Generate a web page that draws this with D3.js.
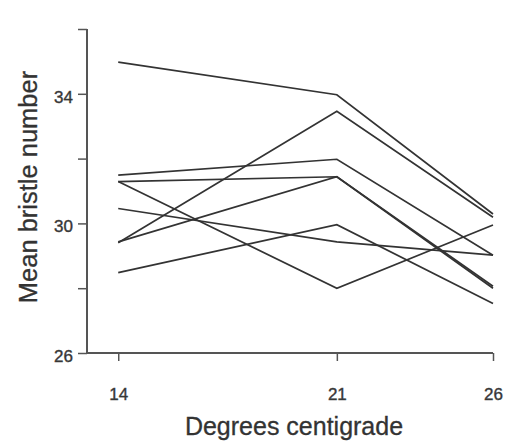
<!DOCTYPE html>
<html>
<head>
<meta charset="utf-8">
<script src="https://cdn.jsdelivr.net/npm/d3@7"></script>
<style>
  html, body { margin: 0; padding: 0; background: #fff; }
  svg { display: block; }
  text { font-family: "Liberation Sans", Arial, sans-serif; fill: #333; }
</style>
</head>
<body>
<svg id="chart" width="505" height="443"></svg>
<script>
// Temperatures (x categories)
const temperatures = [14, 21, 26];
// Mean bristle number per line (one series per line)
const lineA = [34.98, 33.97, 30.29];
const lineB = [29.40, 33.46, 30.19];
const lineC = [31.49, 31.98, 29.02];
const lineD = [31.29, 31.44, 28.06];
const lineE = [31.29, 28.00, 29.95];
const lineF = [29.43, 31.44, 28.00];
const lineG = [28.48, 29.96, 27.53];
const lineH = [30.46, 29.43, 29.02];
const seriesList = [lineA, lineB, lineC, lineD, lineE, lineF, lineG, lineH];

const xTicks = [14, 21, 26];
const yMajorTicks = [26, 30, 34];
const yMinorTicks = [28, 32, 36];

const xTitle = "Degrees centigrade";
const yTitle = "Mean bristle number";

const svg = d3.select("#chart");

const x = d3.scaleLinear().domain([13, 26]).range([87, 493]);
const y = d3.scaleLinear().domain([26, 36]).range([353, 29]);

// Y axis
const yAxisG = svg.append("g").attr("transform", "translate(87,0)");
yAxisG.call(d3.axisLeft(y).tickValues(yMajorTicks.concat(yMinorTicks).sort((a,b)=>a-b))
  .tickSize(9).tickPadding(5)
  .tickFormat(d => yMajorTicks.includes(d) ? d : ""));
yAxisG.select(".domain").attr("stroke", "#555").attr("stroke-width", 2).attr("d", `M0,${y(36)}V${y(26)}`);
yAxisG.selectAll(".tick line").attr("stroke", "#555").attr("stroke-width", 1.5);
yAxisG.selectAll(".tick text")
  .attr("font-size", 17).attr("fill", "#444")
  .attr("stroke", "#444").attr("stroke-width", 0.4)
  .attr("font-family", "'Liberation Sans', Arial, sans-serif")
  .attr("dy", "0.5em");

// X axis
const xAxisG = svg.append("g").attr("transform", "translate(0,353)");
xAxisG.call(d3.axisBottom(x).tickValues(xTicks).tickSize(8).tickPadding(27));
xAxisG.select(".domain").attr("stroke", "#555").attr("stroke-width", 2).attr("d", `M${x(13)},0H${x(26)}`);
xAxisG.selectAll(".tick line").attr("stroke", "#555").attr("stroke-width", 1.5);
xAxisG.selectAll(".tick text")
  .attr("font-size", 17).attr("fill", "#444")
  .attr("stroke", "#444").attr("stroke-width", 0.4)
  .attr("font-family", "'Liberation Sans', Arial, sans-serif");

// Lines
const line = d3.line()
  .x((d, i) => x(temperatures[i]))
  .y(d => y(d));

svg.append("g").selectAll("path")
  .data(seriesList)
  .join("path")
  .attr("d", line)
  .attr("fill", "none")
  .attr("stroke", "#333")
  .attr("stroke-width", 1.7)
  .attr("stroke-linejoin", "miter");

// Titles
svg.append("text")
  .attr("x", 294).attr("y", 435)
  .attr("text-anchor", "middle")
  .attr("font-size", 25)
  .attr("stroke", "#333").attr("stroke-width", 0.3)
  .text(xTitle);

svg.append("text")
  .attr("transform", "translate(37,187) rotate(-90)")
  .attr("text-anchor", "middle")
  .attr("font-size", 25.5)
  .attr("stroke", "#333").attr("stroke-width", 0.3)
  .text(yTitle);
</script>
</body>
</html>
